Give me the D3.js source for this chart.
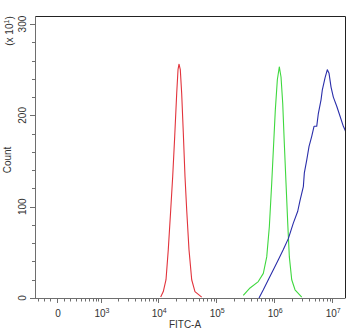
<!DOCTYPE html>
<html>
<head>
<meta charset="utf-8">
<script src="https://cdn.jsdelivr.net/npm/d3@7/dist/d3.min.js"></script>
<style>
  html, body { margin: 0; padding: 0; background: #fff; }
  svg { display: block; }
  text { font-family: "Liberation Sans", Arial, sans-serif; fill: #333; }
</style>
</head>
<body>
<svg id="chart" width="350" height="331"></svg>
<script>
// FITC-A intensity (channel value) and event counts (x10) for each histogram
const redFitc   = [11040, 12250, 13640, 14930, 16430, 17790, 19270, 20850, 21970, 22850, 24060, 25420, 27100, 28980, 31030, 33960, 37830, 43060, 56240];
const redCount  = [1, 7, 20, 53, 96, 133, 177, 224, 250, 256, 250, 224, 181, 133, 96, 53, 20, 7, 1];

const greenFitc  = [293000, 383000, 532000, 649000, 743000, 824000, 906000, 966000, 1045000, 1132000, 1225000, 1310000, 1402000, 1494000, 1597000, 1710000, 1823000, 2004000, 2284000, 2981000];
const greenCount = [3, 11, 18, 27, 45, 78, 126, 162, 206, 239, 253, 242, 213, 169, 126, 82, 45, 20, 9, 1];

const blueFitc  = [547000, 649000, 791000, 966000, 1178000, 1436000, 1751000, 2134000, 2543000, 2788000, 3178000, 3306000, 3634000, 3984000, 4432000, 4856000, 5402000, 5762000, 6412000, 6754000, 7516000, 8234000, 8810000, 9540000, 10450000, 11960000, 13640000, 15550000, 16630000, 18000000];
const blueCount = [0, 9, 20, 31, 42, 53, 65, 82, 95, 107, 122, 137, 151, 166, 177, 188, 188, 202, 217, 228, 241, 250, 246, 231, 220, 210, 199, 188, 184, 178];

// Axis ticks
const yMajor = [0, 100, 200, 300];
const yMinor = d3.range(0, 301, 20);
const xMajorVals = [0, 1e3, 1e4, 1e5, 1e6, 1e7];
const xMajorExp  = [null, 3, 4, 5, 6, 7];

const svg = d3.select("#chart");
const mLeft = 35, mRight = 345, mTop = 16, mBottom = 298;

// Biexponential-style display: asinh transform, linear near zero, log above
const W = 360;
const tf = v => Math.asinh(v / W);
const xLin = d3.scaleLinear().domain([tf(-355), tf(1.66e7)]).range([mLeft, mRight]);
const x = v => xLin(tf(v));
const y = d3.scaleLinear().domain([0, 308.8]).range([mBottom, mTop]);

// Minor tick values on the FITC axis
const xMinor = [];
[-300, -200, -100].forEach(v => xMinor.push(v));
for (let v = 100; v < 1000; v += 100) xMinor.push(v);
for (let k = 3; k <= 6; k++) for (let m = 2; m <= 9; m++) xMinor.push(m * Math.pow(10, k));

// Clip for the histograms
svg.append("clipPath").attr("id", "plotClip")
  .append("rect").attr("x", mLeft).attr("y", mTop).attr("width", mRight - mLeft).attr("height", mBottom - mTop + 1);

const line = d3.line().x(d => x(d[0])).y(d => y(d[1]));
const series = [
  { fitc: redFitc, count: redCount, color: "#e2343c" },
  { fitc: greenFitc, count: greenCount, color: "#3fd83f" },
  { fitc: blueFitc, count: blueCount, color: "#2a2eaa" }
];
svg.append("g").attr("clip-path", "url(#plotClip)")
  .selectAll("path").data(series).join("path")
  .attr("d", s => line(s.fitc.map((f, i) => [f, s.count[i]])))
  .attr("fill", "none")
  .attr("stroke", s => s.color)
  .attr("stroke-width", 1.1)
  .attr("stroke-linejoin", "round");

// Frame: top and right borders
svg.append("path")
  .attr("d", `M${mLeft},${mTop + 0.5}H${mRight + 0.5}V${mBottom}`)
  .attr("fill", "none").attr("stroke", "#222").attr("stroke-width", 1);

// Left and bottom axes
const axisColor = "#6e6e6e";
svg.append("line").attr("x1", mLeft + 0.5).attr("x2", mLeft + 0.5).attr("y1", mTop).attr("y2", mBottom + 0.5)
  .attr("stroke", axisColor);
svg.append("line").attr("x1", mLeft).attr("x2", mRight + 0.5).attr("y1", mBottom + 0.5).attr("y2", mBottom + 0.5)
  .attr("stroke", axisColor);

// Y ticks
svg.append("g").selectAll("line").data(yMinor).join("line")
  .attr("x1", d => yMajor.includes(d) ? mLeft - 5 : mLeft - 3).attr("x2", mLeft)
  .attr("y1", d => Math.round(y(d)) + 0.5).attr("y2", d => Math.round(y(d)) + 0.5)
  .attr("stroke", axisColor);

svg.append("g").selectAll("text").data(yMajor).join("text")
  .attr("transform", d => `translate(26,${y(d)}) rotate(-90)`)
  .attr("text-anchor", "middle")
  .attr("font-size", 10)
  .text(d => d);

// X ticks
svg.append("g").selectAll("line").data(xMinor).join("line")
  .attr("x1", d => Math.round(x(d)) + 0.5).attr("x2", d => Math.round(x(d)) + 0.5)
  .attr("y1", mBottom).attr("y2", mBottom + 3.5)
  .attr("stroke", axisColor);
svg.append("g").selectAll("line").data(xMajorVals).join("line")
  .attr("x1", d => Math.round(x(d)) + 0.5).attr("x2", d => Math.round(x(d)) + 0.5)
  .attr("y1", mBottom).attr("y2", mBottom + 5)
  .attr("stroke", axisColor);

const xl = svg.append("g").selectAll("text").data(xMajorVals).join("text")
  .attr("x", d => x(d) + 1)
  .attr("y", 317)
  .attr("text-anchor", "middle")
  .attr("font-size", 10);
xl.each(function(d, i) {
  const t = d3.select(this);
  if (xMajorExp[i] === null) { t.text("0"); return; }
  t.append("tspan").text("10");
  t.append("tspan").attr("dy", -4).attr("font-size", 7).text(xMajorExp[i]);
});

// Axis titles
svg.append("text").attr("x", 185).attr("y", 328).attr("text-anchor", "middle")
  .attr("font-size", 10).text("FITC-A");
svg.append("text").attr("transform", "translate(11,160) rotate(-90)")
  .attr("text-anchor", "middle").attr("font-size", 10).text("Count");

const mult = svg.append("text").attr("transform", "translate(13,31) rotate(-90)")
  .attr("text-anchor", "middle").attr("font-size", 10);
mult.append("tspan").text("(x 10");
mult.append("tspan").attr("dy", -4).attr("font-size", 7).text("1");
mult.append("tspan").attr("dy", 4).text(")");
</script>
</body>
</html>
